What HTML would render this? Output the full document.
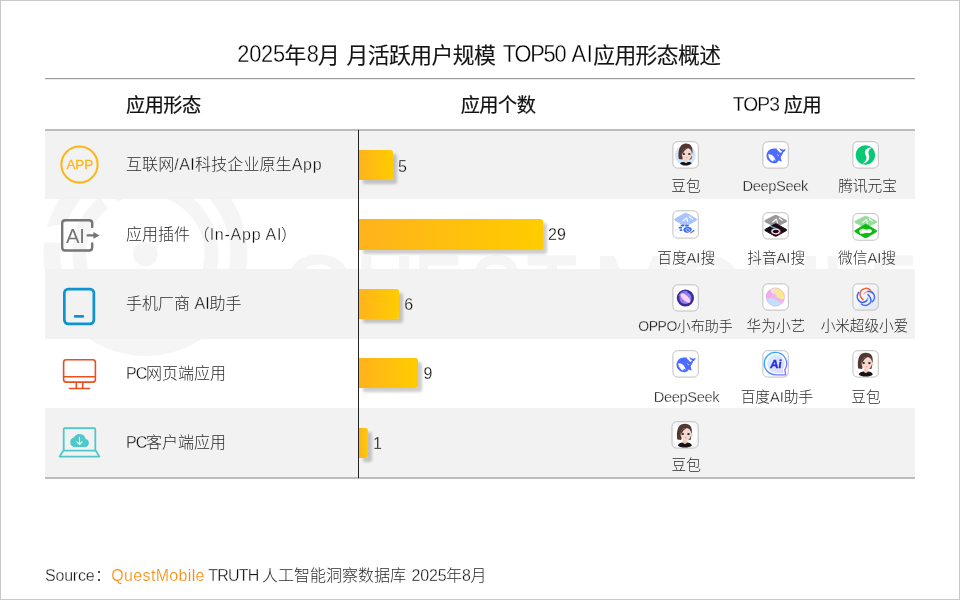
<!DOCTYPE html>
<html lang="zh-CN">
<head>
<meta charset="utf-8">
<title>2025年8月 月活跃用户规模 TOP50 AI应用形态概述</title>
<style>
*{box-sizing:border-box;}
html,body{margin:0;padding:0;background:#fff;}
body{width:960px;height:600px;position:relative;overflow:hidden;
  font-family:"Liberation Sans","Noto Sans CJK SC",sans-serif;color:#404040;}
.abs{position:absolute;}
.frame{position:absolute;left:0;top:0;width:960px;height:600px;border:1px solid #c9c9c9;z-index:50;pointer-events:none;}
.t{position:absolute;white-space:nowrap;margin:0;padding:0;font-weight:400;}
.title{left:0;width:960px;top:41px;height:30px;line-height:30px;font-size:21.8px;color:#141414;font-weight:400;-webkit-text-stroke:0.12px #141414;}
.title span{position:absolute;top:0;white-space:nowrap;}
.title .tl{transform-origin:0 22.5px;transform:translateY(-1px) scaleY(1.075);color:#000;-webkit-text-stroke:0.3px #fff;}
.hl{display:inline-block;transform-origin:0 21.6px;transform:translateY(-0.5px) scaleY(1.07);color:#000;-webkit-text-stroke:0.25px #fff;}
.hline{position:absolute;left:45px;width:870px;}
.th{top:91px;height:30px;line-height:30px;font-size:19.2px;letter-spacing:-0.5px;color:#111;font-weight:400;-webkit-text-stroke:0.22px #111;}
.row{position:absolute;left:45px;width:870px;background:#f2f2f2;}
.lab{left:126px;height:24px;line-height:24px;font-size:16px;color:#2b2b2b;font-weight:300;}
.en{color:#111;-webkit-text-stroke:0.3px #fff;paint-order:fill stroke;}
.g .en{-webkit-text-stroke-color:#f2f2f2;}
.axis{position:absolute;left:358px;top:130px;width:1px;height:348px;background:#222;z-index:2;}
.bar{position:absolute;left:359px;height:30px;border-radius:0 2.5px 2.5px 0;
  background:linear-gradient(90deg,#ffb31c 0%,#ffcc00 100%);
  box-shadow:4px 4px 3px rgba(0,0,0,0.2);}
.val{height:20px;line-height:20px;font-size:16px;color:#050505;-webkit-text-stroke:0.26px #fff;}
.val.g{-webkit-text-stroke-color:#f2f2f2;}
.ic{position:absolute;display:block;overflow:visible;}
.al{height:20px;line-height:20px;font-size:14.67px;color:#2b2b2b;font-weight:300;text-align:center;width:140px;}
.ft{left:0;width:960px;top:564px;height:24px;line-height:24px;font-size:16px;color:#2b2b2b;font-weight:300;}
.ft span{position:absolute;top:0;white-space:nowrap;}
.qm{color:#f68b0c;font-weight:400;-webkit-text-stroke:0.2px #fff;}
.wm{position:absolute;left:0;top:0;width:960px;height:600px;}
</style>
</head>
<body>
<!-- watermark -->
<svg class="wm" width="960" height="600" viewBox="0 0 960 600">
  <g fill="none" stroke="#f5f5f5">
    <circle cx="145.4" cy="254" r="93.5" stroke-width="17"/>
    <circle cx="145.4" cy="254" r="66" stroke-width="14"/>
  </g>
  <circle cx="145.4" cy="254" r="12.3" fill="#f5f5f5"/>
  <path d="M40 229.6 L72 221.2 L72 242.4 L40 242.4 Z" fill="#fff"/>
  <path d="M109.5 209.7 L98.2 195.7 L110.2 187.8 L118.6 203.7 Z" fill="#fff"/>
  <clipPath id="wmclip"><rect x="270" y="240" width="660" height="90"/></clipPath>
  <text clip-path="url(#wmclip)" y="319.7" font-family="'Liberation Sans',sans-serif" font-size="91" fill="#f5f5f5" stroke="#f5f5f5" stroke-width="3.0" stroke-linejoin="round"><tspan x="283.6" textLength="70.4" lengthAdjust="spacingAndGlyphs">Q</tspan><tspan x="356.6" textLength="57.4" lengthAdjust="spacingAndGlyphs">U</tspan><tspan x="414.5" textLength="47.1" lengthAdjust="spacingAndGlyphs">E</tspan><tspan x="470.5" textLength="51.0" lengthAdjust="spacingAndGlyphs">S</tspan><tspan x="527.2" textLength="49.4" lengthAdjust="spacingAndGlyphs">T</tspan><tspan x="593.7" textLength="79.7" lengthAdjust="spacingAndGlyphs">M</tspan><tspan x="671.1" textLength="71.8" lengthAdjust="spacingAndGlyphs">O</tspan><tspan x="744.3" textLength="53.4" lengthAdjust="spacingAndGlyphs">B</tspan><tspan x="798.3" textLength="24.6" lengthAdjust="spacingAndGlyphs">I</tspan><tspan x="822.6" textLength="43.5" lengthAdjust="spacingAndGlyphs">L</tspan><tspan x="869.7" textLength="46.8" lengthAdjust="spacingAndGlyphs">E</tspan></text>
</svg>
<h1 class="t title"><span class="tl" style="left:237.2px;letter-spacing:-0.17px;">2025</span><span style="left:284.4px;letter-spacing:0.09px;">年</span><span class="tl" style="left:306.8px;letter-spacing:-0.03px;">8</span><span style="left:318.0px;letter-spacing:-0.81px;">月</span> <span style="left:346.4px;letter-spacing:-0.51px;">月活跃用户规模</span> <span class="tl" style="left:502.8px;letter-spacing:-1.21px;">TOP50</span> <span class="tl" style="left:571.4px;letter-spacing:0.70px;">AI</span><span style="left:593.2px;letter-spacing:-0.60px;">应用形态概述</span></h1>

<div class="hline" style="top:78px;height:2px;background:linear-gradient(#9c9c9c 0,#9c9c9c 50%,#ececec 50%,#ececec 100%);"></div>
<div class="t th" style="left:126px;">应用形态</div>
<div class="t th" style="left:398px;width:200px;text-align:center;">应用个数</div>
<div class="t th" style="left:677px;width:200px;text-align:center;"><span class="hl" style="letter-spacing:-0.9px;">TOP3</span> 应用</div>
<div class="hline" style="top:129px;height:2px;background:#bcbcbc;"></div>

<!-- rows -->
<div class="row" style="top:131px;height:68px;"></div>
<div class="row" style="top:269px;height:70px;"></div>
<div class="row" style="top:408px;height:69px;"></div>
<div class="hline" style="top:477px;height:2px;background:#bcbcbc;"></div>

<div class="axis"></div>

<!-- left labels -->
<div class="t lab g" style="top:153px;letter-spacing:0.1px;">互联网<span class="en" style="letter-spacing:0.4px;">/AI</span>科技企业原生<span class="en" style="letter-spacing:0.7px;">App</span></div>
<div class="t lab" style="top:223px;">应用插件 <span style="margin-left:-1px;">（</span><span class="en" style="letter-spacing:0.75px;margin-left:0.2px;">In-App AI</span><span style="margin-left:-1.2px;">）</span></div>
<div class="t lab g" style="top:292px;">手机厂商 <span class="en">AI</span>助手</div>
<div class="t lab" style="top:362px;"><span class="en" style="letter-spacing:-0.8px;margin-right:-0.6px;">PC</span>网页端应用</div>
<div class="t lab g" style="top:431px;"><span class="en" style="letter-spacing:-0.8px;margin-right:-0.6px;">PC</span>客户端应用</div>
<!-- left icons -->
<svg class="abs" style="left:55px;top:140px;" width="50" height="50" viewBox="55 140 50 50">
  <circle cx="79.5" cy="164.5" r="18.1" fill="none" stroke="#fdb614" stroke-width="2"/>
  <text x="79.8" y="169.4" text-anchor="middle" font-family="'Liberation Sans',sans-serif" font-size="13.4" fill="#fdb614" stroke="#fdb614" stroke-width="0.3">APP</text>
</svg>
<svg class="abs" style="left:55px;top:210px;" width="50" height="50" viewBox="55 210 50 50">
  <path d="M92.2 226.9 V223.2 Q92.2 220.2 89.2 220.2 H65.2 Q62.2 220.2 62.2 223.2 V247.5 Q62.2 250.5 65.2 250.5 H89.2 Q92.2 250.5 92.2 247.5 V243.4" fill="none" stroke="#767676" stroke-width="2.4" stroke-linecap="round"/>
  <text x="65.9" y="242.9" font-family="'Liberation Sans',sans-serif" font-size="20.2" fill="#767676">AI</text>
  <path d="M87.6 235.4 H94.5" stroke="#767676" stroke-width="2.3" stroke-linecap="round" fill="none"/>
  <path d="M93.4 232 L99.6 235.4 L93.4 238.8 Z" fill="#767676"/>
</svg>
<svg class="abs" style="left:55px;top:280px;" width="50" height="50" viewBox="55 280 50 50">
  <rect x="64.35" y="289.05" width="29.5" height="34.8" rx="3.8" ry="3.8" fill="none" stroke="#0d93d1" stroke-width="2.7"/>
  <path d="M75.2 316.4 H82.8" stroke="#0d93d1" stroke-width="2.8" stroke-linecap="round" fill="none"/>
</svg>
<svg class="abs" style="left:55px;top:350px;" width="50" height="50" viewBox="55 350 50 50">
  <rect x="63.6" y="359.8" width="31.8" height="22.3" rx="2.6" ry="2.6" fill="none" stroke="#e8501f" stroke-width="1.6"/>
  <path d="M63.6 376.8 H95.4 M76.3 382.4 V388.5 M82.7 382.4 V388.5" stroke="#e8501f" stroke-width="1.6" fill="none"/>
  <path d="M69.5 388.5 H89.5" stroke="#e8501f" stroke-width="1.6" stroke-linecap="round" fill="none"/>
</svg>
<svg class="abs" style="left:55px;top:420px;" width="50" height="50" viewBox="55 420 50 50">
  <path d="M63.7 450.6 V429.2 Q63.7 428.1 64.8 428.1 H94.2 Q95.3 428.1 95.3 429.2 V450.6" fill="none" stroke="#4ec8c8" stroke-width="1.8"/>
  <path d="M63.2 450.7 H95.8 L99.4 456.6 H59.6 Z" fill="none" stroke="#4ec8c8" stroke-width="1.8" stroke-linejoin="round"/>
  <path d="M74.3 447 H85 A4.1 4.1 0 0 0 85.6 438.9 A6.2 6.2 0 0 0 73.9 437.6 A4.8 4.8 0 0 0 74.3 447 Z" fill="#4ec8c8"/>
  <path d="M79.5 437.4 V444.2 M76.9 441.8 L79.5 444.5 L82.1 441.8" fill="none" stroke="#fff" stroke-width="1.1" stroke-linecap="round" stroke-linejoin="round"/>
</svg>
<!-- bars -->
<div class="bar" style="top:150px;width:34px;"></div>
<div class="bar" style="top:219px;height:31px;width:184px;"></div>
<div class="bar" style="top:289px;width:40px;"></div>
<div class="bar" style="top:358px;width:59px;"></div>
<div class="bar" style="top:428px;width:9px;"></div>
<div class="t val g" style="left:398px;top:157px;">5</div>
<div class="t val" style="left:548px;top:225px;">29</div>
<div class="t val g" style="left:404.3px;top:295px;">6</div>
<div class="t val" style="left:423.5px;top:364px;">9</div>
<div class="t val g" style="left:373px;top:434px;">1</div>
<!-- app icons -->
<!-- row 1: doubao / deepseek / yuanbao -->
<svg class="ic" style="left:671px;top:140px;" width="29" height="30" viewBox="-1.4 -1.2 29 30">
  <rect x="0.5" y="0.5" width="25.4" height="26.4" rx="4.6" fill="#fff" stroke="#c0c0c0" stroke-width="1"/>
  <circle cx="13" cy="13.9" r="10.4" fill="#cfe5fb"/>
  <path d="M6.4 17.8 C5.4 12 6.4 5.4 10 3.2 C12.6 1.6 16.6 2 18.4 4.2 C20.4 6.6 20.4 10.4 19.8 13.6 L19 18 L16.8 18.2 L16 8.8 L11.4 9.6 L10 18.2 Z" fill="#533832"/>
  <path d="M11.6 19.2 L15.2 19.2 L15.6 22.4 L11.2 22.4 Z" fill="#f1c9bf"/>
  <path d="M7.4 22 C9 20.6 11 20.6 11.6 20.8 C12.6 22.2 14.4 22.2 15.4 20.8 C16.6 20.6 18.6 20.8 19.4 22 C17.8 23.6 15.6 24.3 13 24.3 C10.8 24.3 8.8 23.4 7.4 22 Z" fill="#141414"/>
  <ellipse cx="19.9" cy="13.6" rx="1.1" ry="1.5" fill="#f3cdc3"/>
  <path d="M9.4 12.4 C9.4 9 12 6.8 14.7 6.8 C17.4 6.8 19.4 9 19.4 12.6 C19.4 16.4 17.2 19.2 14.4 19.2 C11.8 19.2 9.4 16.2 9.4 12.4 Z" fill="#f6d8cf"/>
  <path d="M9.1 12.6 C9.4 8.4 12.8 5.9 16.6 6.7 C14.2 7.3 11.8 8.7 10.6 12 Z" fill="#533832"/>
  <ellipse cx="11.4" cy="12.7" rx="1.25" ry="1.0" fill="#2b2f3a"/>
  <ellipse cx="16.9" cy="12.9" rx="1.25" ry="1.0" fill="#2b2f3a"/>
  <ellipse cx="14.1" cy="16.5" rx="0.9" ry="0.5" fill="#e9938c"/>
</svg>
<svg class="ic" style="left:761px;top:140px;" width="29" height="30" viewBox="-1.4 -1.2 29 30">
  <rect x="0.5" y="0.5" width="25.4" height="26.4" rx="4.6" fill="#fff" stroke="#c0c0c0" stroke-width="1"/>
  <path d="M4.1 14.6 C4.1 10.4 7.4 7.3 11.4 7.3 C12.6 7.3 13.5 7.5 13.9 7.1 C14.3 7.6 14.5 8.4 15.2 9 C16.2 9.9 17 10.6 17.6 11.6 C18.8 11.6 19.6 11 19.4 9.8 C18.2 9.6 17.2 8.4 17 6.8 C18 7.6 19 8 20 8.4 C21.2 8.7 22.4 8.2 23.2 7.6 C23 9.4 22.2 10.6 20.8 11 C20.4 13 19.2 14 18.6 15.4 C18.2 16.8 18.4 18.4 19.6 20 C18.4 20.4 17.2 19.8 16.4 19 C15.8 20.4 14.6 21.4 13.4 21.8 C9.4 23 4.1 19.6 4.1 14.6 Z" fill="#4d6bfe"/>
  <path d="M5.8 13.2 C8.2 12.6 10.8 14 12 16.4 C12.6 17.6 13 18.8 13.6 19.6 C12.8 19.4 12 18.8 11.5 18.1 C11.5 19 11.2 19.8 10.6 20.4 C8 19.2 6 16.4 5.8 13.2 Z" fill="#fff"/>
  <path d="M14.7 13.1 C15.7 13.4 16.4 14.2 16.6 15.2 C15.6 14.9 15 14.1 14.7 13.1 Z" fill="#fff"/>
</svg>
<svg class="ic" style="left:851px;top:140px;" width="29" height="30" viewBox="-1.4 -1.2 29 30">
  <rect x="0.5" y="0.5" width="25.4" height="26.4" rx="4.6" fill="#fff" stroke="#c0c0c0" stroke-width="1"/>
  <circle cx="13" cy="13.8" r="9.8" fill="#07c873"/>
  <path d="M19.4 6.4 C16.6 6.2 13.6 7.4 12.6 10 C11.8 12.2 13.6 13.8 14 15.8 C14.4 18 13.2 20.4 10.2 22.4 C12.6 22.4 15.6 20.6 16.6 17.8 C17.4 15.4 16.2 13.6 16 11.8 C15.8 9.8 17 8 19.4 6.4 Z" fill="#fff"/>
</svg>

<!-- row 2: baidu AI / douyin AI / weixin AI -->
<svg class="ic" style="left:671px;top:209px;" width="29" height="31" viewBox="-1.4 -1.3 29 31">
  <rect x="0.5" y="0.5" width="25.4" height="27.3" rx="4.6" fill="#fff" stroke="#c0c0c0" stroke-width="1"/>
  <path d="M13.3 14.9 L23.9 19.6 Q24.8 20.1 23.9 20.6 L14.3 25.2 Q13.3 25.6 12.3 25.2 L2.7 20.6 Q1.8 20.1 2.7 19.6 Z" fill="#fff" stroke="#ececf0" stroke-width="0.8"/>
  <path d="M12.3 3.1 Q13.3 2.6 14.3 3.1 L23.9 8.6 Q24.8 9.3 23.9 10 L14.3 15.5 Q13.3 16 12.3 15.5 L2.7 10 Q1.8 9.3 2.7 8.6 Z" fill="#a9c4fd" stroke="#a9c4fd" stroke-width="1" stroke-linejoin="round"/>
  <path d="M10.6 10.6 L14.2 7.6 L15.4 11.2 M17 6.4 L20 8.8" fill="none" stroke="#fff" stroke-width="1.1" stroke-linecap="round" stroke-linejoin="round"/>
  <g fill="#2c66f5">
    <ellipse cx="10" cy="15.2" rx="1.9" ry="0.9"/>
    <ellipse cx="14.6" cy="15.4" rx="1.9" ry="0.9"/>
    <ellipse cx="8" cy="17.4" rx="1.8" ry="0.9"/>
    <ellipse cx="8.6" cy="19.8" rx="1.6" ry="0.9"/>
    <path d="M11 19.4 C11 17.4 13.2 16.6 15.6 16.8 C18 17 19.8 18 19.4 19.4 C19 20.8 16.6 22.6 14.4 22.4 C12.4 22.2 11 21 11 19.4 Z"/>
  </g>
  <path d="M13.4 19.6 C13.4 18.6 14.6 18.2 15.8 18.4 C17 18.6 17.6 19.2 17.2 20 C16.8 20.8 15.6 21.2 14.6 21 C13.8 20.8 13.4 20.2 13.4 19.6 Z" fill="none" stroke="#fff" stroke-width="0.7"/>
  <path d="M18.2 22.6 L19.8 21.6" stroke="#e8463c" stroke-width="1.1" stroke-linecap="round"/>
  <path d="M20.2 21.2 L21.6 20.2" stroke="#2c66f5" stroke-width="1.1" stroke-linecap="round"/>
</svg>
<svg class="ic" style="left:761px;top:211px;" width="29" height="30" viewBox="-1.4 -1.2 29 30">
  <rect x="0.5" y="0.5" width="25.4" height="26.3" rx="4.6" fill="#fff" stroke="#c0c0c0" stroke-width="1"/>
  <path d="M12.3 3.4 Q13.3 2.9 14.3 3.4 L23.9 8.3 Q24.8 8.9 23.9 9.5 L14.3 14.4 Q13.3 14.9 12.3 14.4 L2.7 9.5 Q1.8 8.9 2.7 8.3 Z" fill="#9b9698" stroke="#9b9698" stroke-width="1" stroke-linejoin="round"/>
  <path d="M12.3 11.9 Q13.3 11.4 14.3 11.9 L23.9 17.2 Q24.8 17.8 23.9 18.4 L14.3 23.7 Q13.3 24.2 12.3 23.7 L2.7 18.4 Q1.8 17.8 2.7 17.2 Z" fill="#190a13" stroke="#190a13" stroke-width="1" stroke-linejoin="round"/>
  <path d="M10.4 9.8 L14 6.8 L15.2 10.6 M16.8 5.8 L19.8 8.2" fill="none" stroke="#fff" stroke-width="1.1" stroke-linecap="round" stroke-linejoin="round"/>
  <path d="M8.6 14.2 L14.6 16.6" stroke="#5fd9e8" stroke-width="1.1" stroke-linecap="round" fill="none"/>
  <ellipse cx="13" cy="19.1" rx="3.9" ry="2.5" fill="none" stroke="#35d8e6" stroke-width="1.1"/>
  <ellipse cx="13.9" cy="19.4" rx="3.9" ry="2.5" fill="none" stroke="#f2384f" stroke-width="1.1"/>
  <ellipse cx="13.45" cy="19.25" rx="3.7" ry="2.35" fill="none" stroke="#fff" stroke-width="0.9"/>
</svg>
<svg class="ic" style="left:851px;top:212px;" width="29" height="30" viewBox="-1.4 -1.1 29 30">
  <rect x="0.5" y="0.5" width="25.4" height="26.6" rx="4.6" fill="#fff" stroke="#c0c0c0" stroke-width="1"/>
  <path d="M12.3 3.4 Q13.3 2.9 14.3 3.4 L23.9 8.2 Q24.8 8.8 23.9 9.4 L14.3 14.2 Q13.3 14.7 12.3 14.2 L2.7 9.4 Q1.8 8.8 2.7 8.2 Z" fill="#97dc9d" stroke="#97dc9d" stroke-width="1" stroke-linejoin="round"/>
  <path d="M12.3 11.6 Q13.3 11.1 14.3 11.6 L23.9 17.4 Q24.8 18 23.9 18.6 L14.3 24.4 Q13.3 24.9 12.3 24.4 L2.7 18.6 Q1.8 18 2.7 17.4 Z" fill="#0cba10" stroke="#0cba10" stroke-width="1" stroke-linejoin="round"/>
  <path d="M10.4 9.6 L14 6.6 L15.2 10.4 M16.8 5.6 L19.8 8" fill="none" stroke="#fff" stroke-width="1.1" stroke-linecap="round" stroke-linejoin="round"/>
  <path transform="translate(13.2 18) scale(0.9) translate(-13.2 -18)" d="M6.2 18.2 C6.2 16.6 8 15.4 10.2 15.4 C11.6 15.4 12.8 15.9 13.5 16.6 C14.2 16 15.4 15.6 16.6 15.6 C18.6 15.6 20.2 16.6 20.2 17.9 C20.2 19.2 18.6 20.2 16.6 20.2 C15.8 20.2 15 20 14.4 19.8 L13.2 20.6 L13.3 19.6 C12.6 20.4 11.4 20.9 10.2 20.9 C9.6 20.9 9 20.8 8.4 20.6 L7 21.4 L7.3 20.1 C6.6 19.6 6.2 18.9 6.2 18.2 Z" fill="#fff"/>
  <circle cx="8.6" cy="17.6" r="0.55" fill="#0cba10"/>
  <circle cx="14.6" cy="16.9" r="0.5" fill="#0cba10"/>
</svg>

<!-- row 3: oppo / huawei / xiaomi -->
<svg class="ic" style="left:671px;top:283px;" width="29" height="30" viewBox="-1.4 -1.3 29 30">
  <rect x="0.5" y="0.5" width="25.4" height="26.2" rx="4.6" fill="#fafafa" stroke="#c0c0c0" stroke-width="1"/>
  <circle cx="13" cy="13.7" r="8.6" fill="#3a2a96"/>
  <circle cx="13" cy="13.7" r="6.1" fill="#8d80ea"/>
  <ellipse cx="13" cy="13.7" rx="6.3" ry="2.7" transform="rotate(42 13 13.7)" fill="#fccff6"/>
  <path d="M6.6 12 A6.6 6.6 0 0 1 15 7.4" fill="none" stroke="#a89cf2" stroke-width="0.8"/>
</svg>
<svg class="ic" style="left:761px;top:282px;" width="29" height="30" viewBox="-1.4 -1.4 29 30">
  <rect x="0.5" y="0.5" width="25.4" height="26.2" rx="4.6" fill="#fff" stroke="#c0c0c0" stroke-width="1"/>
  <circle cx="13" cy="13.6" r="9.3" fill="#bfe1fb"/>
  <path d="M3.9 15.4 A9.3 9.3 0 0 1 7.6 6 L10.6 10.8 L8.6 14 Z" fill="#f7a8ea"/>
  <path d="M7.6 6 A9.3 9.3 0 0 1 13.6 4.3 L12.4 9.2 L10.2 10.4 Z" fill="#fde2cf"/>
  <path d="M13.2 4.3 A9.3 9.3 0 0 1 22.1 15.4 C19.6 15.8 17.2 15.4 15.4 13.8 C13.2 12 12 9 13.2 4.3 Z" fill="#ffe78f"/>
  <path d="M8.8 13.4 L10.8 10.2 L12.2 10.8 C13 13 15.2 15.2 18.4 15.8 L22 15.6 A9.3 9.3 0 0 1 19.6 20.2 C16.6 18.2 12.6 15.6 9 14.6 L3.9 15.8 Z" fill="#f6b2ee"/>
  <circle cx="13" cy="13.6" r="9.1" fill="none" stroke="#d9a8f8" stroke-width="0.5"/>
</svg>
<svg class="ic" style="left:851px;top:282px;" width="29" height="30" viewBox="-1.4 -1.4 29 30">
  <defs><linearGradient id="xmbg" x1="0" y1="0" x2="1" y2="1"><stop offset="0" stop-color="#ffffff"/><stop offset="1" stop-color="#e2e8f1"/></linearGradient></defs>
  <rect x="0.5" y="0.5" width="25.4" height="26.2" rx="4.6" fill="url(#xmbg)" stroke="#c0c0c0" stroke-width="1"/>
  <g fill="none" stroke-linecap="round" stroke-width="1.5">
    <path d="M6.2 9 C4.2 12 4.4 15.8 7.2 18 C9.6 19.8 13 19.2 14.8 16.6" stroke="#3d5ff6"/>
    <path d="M9 20.6 C11.4 22.6 15 22.4 17 20.4 C18.8 18.6 18.8 15.6 17.4 13.4 C16.8 12.4 16 11.6 15.6 11.2" stroke="#4468f8"/>
    <path d="M15.2 8.2 C17.6 7.6 20.2 8.8 21.4 11 C22.6 13.4 22 16.4 20 18.2" stroke="#4a6cf8"/>
    <path d="M18.2 6.6 C15.8 4.6 12.4 4.4 10 6.2 C7.6 8 7.2 11.2 8.4 13.8 C8.9 14.8 9.7 15.7 10.6 16.3" stroke="#f4613f"/>
    <path d="M11.4 10.6 C12 9.4 13.2 8.6 14.6 8.4" stroke="#f6a59a" stroke-width="1.3"/>
    <path d="M14.8 16.4 C15.2 15.8 15.4 15.4 15.4 15" stroke="#57c6fa" stroke-width="1.6"/>
  </g>
</svg>

<!-- row 4: deepseek / baidu AI assistant / doubao -->
<svg class="ic" style="left:671px;top:349px;" width="29" height="30" viewBox="-1.4 -1.2 29 30">
  <rect x="0.5" y="0.5" width="25.4" height="26.4" rx="4.6" fill="#fff" stroke="#c0c0c0" stroke-width="1"/>
  <path d="M4.1 14.6 C4.1 10.4 7.4 7.3 11.4 7.3 C12.6 7.3 13.5 7.5 13.9 7.1 C14.3 7.6 14.5 8.4 15.2 9 C16.2 9.9 17 10.6 17.6 11.6 C18.8 11.6 19.6 11 19.4 9.8 C18.2 9.6 17.2 8.4 17 6.8 C18 7.6 19 8 20 8.4 C21.2 8.7 22.4 8.2 23.2 7.6 C23 9.4 22.2 10.6 20.8 11 C20.4 13 19.2 14 18.6 15.4 C18.2 16.8 18.4 18.4 19.6 20 C18.4 20.4 17.2 19.8 16.4 19 C15.8 20.4 14.6 21.4 13.4 21.8 C9.4 23 4.1 19.6 4.1 14.6 Z" fill="#4d6bfe"/>
  <path d="M5.8 13.2 C8.2 12.6 10.8 14 12 16.4 C12.6 17.6 13 18.8 13.6 19.6 C12.8 19.4 12 18.8 11.5 18.1 C11.5 19 11.2 19.8 10.6 20.4 C8 19.2 6 16.4 5.8 13.2 Z" fill="#fff"/>
  <path d="M14.7 13.1 C15.7 13.4 16.4 14.2 16.6 15.2 C15.6 14.9 15 14.1 14.7 13.1 Z" fill="#fff"/>
</svg>
<svg class="ic" style="left:761px;top:349px;" width="29" height="30" viewBox="-1.4 -1.2 29 30">
  <defs>
    <linearGradient id="bdring" x1="0" y1="0" x2="1" y2="1"><stop offset="0" stop-color="#25b8ff"/><stop offset="0.55" stop-color="#4b8dff"/><stop offset="1" stop-color="#8a6bff"/></linearGradient>
    <linearGradient id="bdfill" x1="0" y1="0" x2="1" y2="1"><stop offset="0" stop-color="#d6eeff"/><stop offset="1" stop-color="#dedcff"/></linearGradient>
  </defs>
  <rect x="0.5" y="0.5" width="25.4" height="26.4" rx="4.6" fill="#fff" stroke="#c0c0c0" stroke-width="1"/>
  <path d="M13 2.2 A11.2 11.2 0 0 1 22.4 19.6 L23.4 24.6 L13 24.6 A11.2 11.2 0 0 1 13 2.2 Z" fill="#fff" stroke="url(#bdring)" stroke-width="1.3" stroke-linejoin="round"/>
  <path d="M13 4.2 A9.3 9.3 0 0 1 20.6 18.8 L21.2 22.7 L13 22.7 A9.3 9.3 0 0 1 13 4.2 Z" fill="url(#bdfill)"/>
  <text x="13.1" y="17.7" text-anchor="middle" transform="translate(2.2 0) skewX(-7)" font-family="'Liberation Sans',sans-serif" font-size="11.6" font-weight="700" fill="#2a2fe0" stroke="#2a2fe0" stroke-width="0.4">Ai</text>
</svg>
<svg class="ic" style="left:851px;top:349px;" width="29" height="30" viewBox="-1.4 -1.2 29 30">
  <rect x="0.5" y="0.5" width="25.4" height="26.4" rx="4.6" fill="#fff" stroke="#c0c0c0" stroke-width="1"/>
  <circle cx="13.2" cy="13.7" r="11.6" fill="none" stroke="#f3f3f3" stroke-width="0.8"/>
  <path d="M5.8 18.4 C4.8 12 5.8 5.6 9.6 3.4 C12.4 1.8 16.8 2.2 18.8 4.6 C20.6 7 20.6 10.6 20 13.8 L19.2 18.6 L16.8 18.8 L16 9 L11.2 9.8 L9.8 18.8 Z" fill="#533832"/>
  <path d="M11.6 18.4 L15.6 18.4 L16 23.4 L10.8 23.4 Z" fill="#f1c9bf"/>
  <path d="M6.4 24.4 C6.8 22.4 9.4 21.4 11.2 21.4 C12.4 23.2 14.6 23.2 15.8 21.4 C17.6 21.4 20 22.4 20.4 24.4 C19 26 16.4 26.4 13.4 26.4 C10.4 26.4 7.8 26 6.4 24.4 Z" fill="#141414"/>
  <ellipse cx="20.1" cy="13.6" rx="1.1" ry="1.6" fill="#f3cdc3"/>
  <path d="M9.1 12.4 C9.1 8.8 11.8 6.8 14.6 6.8 C17.4 6.8 19.6 9 19.6 12.6 C19.6 16.4 17.4 19.4 14.4 19.4 C11.6 19.4 9.1 16.2 9.1 12.4 Z" fill="#f6d8cf"/>
  <path d="M8.8 12.6 C9 8.4 12.6 5.8 16.6 6.6 C14.2 7.2 11.6 8.6 10.4 12 Z" fill="#533832"/>
  <ellipse cx="11.2" cy="12.8" rx="1.35" ry="1.05" fill="#2b2f3a"/>
  <ellipse cx="17" cy="12.9" rx="1.35" ry="1.05" fill="#2b2f3a"/>
  <ellipse cx="14.2" cy="16.5" rx="0.9" ry="0.5" fill="#e9938c"/>
</svg>

<!-- row 5: doubao -->
<svg class="ic" style="left:670px;top:420px;" width="30" height="30" viewBox="-1.5 -1.2 30 30">
  <rect x="0.5" y="0.5" width="26.2" height="26.4" rx="4.6" fill="#f6f6f6" stroke="#c0c0c0" stroke-width="1"/>
  <circle cx="13.6" cy="13.7" r="12.2" fill="#fff"/>
  <path d="M5.8 18.4 C4.8 12 5.8 5.6 9.6 3.4 C12.4 1.8 16.8 2.2 18.8 4.6 C20.6 7 20.6 10.6 20 13.8 L19.2 18.6 L16.8 18.8 L16 9 L11.2 9.8 L9.8 18.8 Z" fill="#533832"/>
  <path d="M11.6 18.4 L15.6 18.4 L16 23.4 L10.8 23.4 Z" fill="#f1c9bf"/>
  <path d="M6.4 24.4 C6.8 22.4 9.4 21.4 11.2 21.4 C12.4 23.2 14.6 23.2 15.8 21.4 C17.6 21.4 20 22.4 20.4 24.4 C19 26 16.4 26.4 13.4 26.4 C10.4 26.4 7.8 26 6.4 24.4 Z" fill="#141414"/>
  <ellipse cx="20.1" cy="13.6" rx="1.1" ry="1.6" fill="#f3cdc3"/>
  <path d="M9.1 12.4 C9.1 8.8 11.8 6.8 14.6 6.8 C17.4 6.8 19.6 9 19.6 12.6 C19.6 16.4 17.4 19.4 14.4 19.4 C11.6 19.4 9.1 16.2 9.1 12.4 Z" fill="#f6d8cf"/>
  <path d="M8.8 12.6 C9 8.4 12.6 5.8 16.6 6.6 C14.2 7.2 11.6 8.6 10.4 12 Z" fill="#533832"/>
  <ellipse cx="11.2" cy="12.8" rx="1.35" ry="1.05" fill="#2b2f3a"/>
  <ellipse cx="17" cy="12.9" rx="1.35" ry="1.05" fill="#2b2f3a"/>
  <ellipse cx="14.2" cy="16.5" rx="0.9" ry="0.5" fill="#e9938c"/>
</svg>
<!-- app labels -->
<div class="t al g" style="left:616.0px;top:176px;">豆包</div>
<div class="t al g" style="left:705.2px;top:176px;"><span class="en" style="letter-spacing:-0.37px;">DeepSeek</span></div>
<div class="t al g" style="left:797.5px;top:176px;">腾讯元宝</div>
<div class="t al" style="left:616.2px;top:248px;">百度<span class="en">AI</span>搜</div>
<div class="t al" style="left:706.2px;top:248px;">抖音<span class="en">AI</span>搜</div>
<div class="t al" style="left:797.0px;top:248px;">微信<span class="en">AI</span>搜</div>
<div class="t al g" style="left:615.6px;top:316px;font-size:14px;"><span class="en" style="letter-spacing:-0.5px;">OPPO</span>小布助手</div>
<div class="t al g" style="left:705.9px;top:316px;">华为小艺</div>
<div class="t al g" style="left:794.4px;top:316px;letter-spacing:-0.15px;">小米超级小爱</div>
<div class="t al" style="left:616.5px;top:387px;"><span class="en" style="letter-spacing:-0.37px;">DeepSeek</span></div>
<div class="t al" style="left:706.9px;top:387px;">百度<span class="en">AI</span>助手</div>
<div class="t al" style="left:796.0px;top:387px;">豆包</div>
<div class="t al g" style="left:616.2px;top:455px;">豆包</div>
<!-- footer -->
<div class="t ft"><span class="en" style="left:45.0px;letter-spacing:-0.2px;">Source</span><span style="left:95.0px;letter-spacing:-0.02px;">：</span> <span class="qm" style="left:111.3px;letter-spacing:0.34px;">QuestMobile</span> <span class="en" style="left:208.3px;letter-spacing:-0.8px;">TRUTH</span> <span style="left:262.0px;letter-spacing:-0.00px;">人工智能洞察数据库</span> <span class="en" style="left:411.4px;letter-spacing:-0.10px;">2025</span><span style="left:446.0px;letter-spacing:-0.42px;">年</span><span class="en" style="left:462.0px;letter-spacing:-0.31px;">8</span><span style="left:470.6px;letter-spacing:-0.22px;">月</span></div>

<div class="frame"></div>
</body>
</html>
